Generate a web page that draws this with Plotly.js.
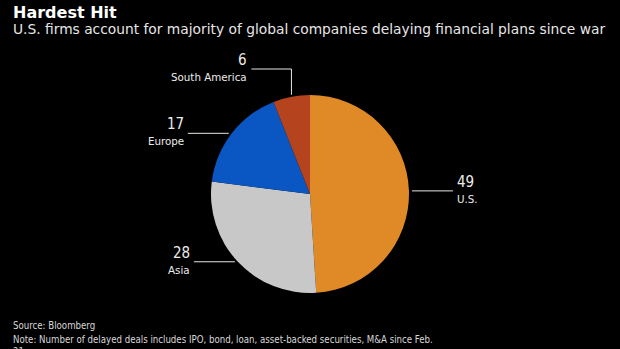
<!DOCTYPE html>
<html><head><meta charset="utf-8">
<script src="https://cdn.plot.ly/plotly-3.0.1.min.js"></script>
<style>html,body{margin:0;padding:0;background:#000;}#chart{width:620px;height:349px;}</style>
</head><body><div id="chart"></div>
<script>
const regions = ["U.S.", "Asia", "Europe", "South America"];
const delayedDeals = [49, 28, 17, 6];
const sliceColors = ["#DF8A26", "#C8C8C8", "#0A56C2", "#B5431E"];

const W = 620, H = 349;
const FONT = "DejaVu Sans Condensed, DejaVu Sans, sans-serif";
const FONTW = "DejaVu Sans, sans-serif";
const cx = 310, cy = 194, R = 99;
const px = x => x / W, py = y => 1 - y / H;

const shapes = [], annotations = [];
const total = delayedDeals.reduce((a, b) => a + b, 0);
let cum = 0;
delayedDeals.forEach((v, i) => {
  const mid = (cum + v / 2) / total * 2 * Math.PI;
  cum += v;
  const ex = cx + R * Math.sin(mid), ey = cy - R * Math.cos(mid);
  let ly, endx, anchor;
  const lineStyle = {color: "#e6e6e6", width: 1};
  if (Math.abs(Math.sin(mid)) < 0.3) {
    ly = cy - R - 26;
    shapes.push({type: "line", xref: "paper", yref: "paper", x0: px(ex), y0: py(ey - 2), x1: px(ex), y1: py(ly), line: lineStyle});
    endx = ex - 40;
    shapes.push({type: "line", xref: "paper", yref: "paper", x0: px(ex), y0: py(ly), x1: px(endx), y1: py(ly), line: lineStyle});
    anchor = "right";
  } else {
    ly = ey;
    const dir = Math.sin(mid) > 0 ? 1 : -1;
    const sx = ex + dir * 3;
    endx = sx + dir * 41;
    shapes.push({type: "line", xref: "paper", yref: "paper", x0: px(sx), y0: py(ly), x1: px(endx), y1: py(ly), line: lineStyle});
    anchor = dir > 0 ? "left" : "right";
  }
  const tx = anchor === "left" ? endx + 2 : endx - 2;
  annotations.push({xref: "paper", yref: "paper", x: px(tx), y: py(ly - 9), xanchor: anchor, yanchor: "middle",
    text: String(v), showarrow: false, font: {family: FONT, size: 15, color: "#ececec"}});
  annotations.push({xref: "paper", yref: "paper", x: px(tx), y: py(ly + 8), xanchor: anchor, yanchor: "middle",
    text: regions[i], showarrow: false, font: {family: FONTW, size: 10.3, color: "#ececec"}});
});

annotations.push(
  {xref: "paper", yref: "paper", x: px(11), y: py(12), xanchor: "left", yanchor: "middle", showarrow: false,
   text: "<b>Hardest Hit</b>", font: {family: FONTW, size: 16, color: "#ffffff"}},
  {xref: "paper", yref: "paper", x: px(11), y: py(29), xanchor: "left", yanchor: "middle", showarrow: false,
   text: "U.S. firms account for majority of global companies delaying financial plans since war", font: {family: FONTW, size: 13.8, color: "#e6e6e6"}},
  {xref: "paper", yref: "paper", x: px(11), y: py(325), xanchor: "left", yanchor: "middle", showarrow: false,
   text: "Source: Bloomberg", font: {family: FONT, size: 9.6, color: "#d8d8d8"}},
  {xref: "paper", yref: "paper", x: px(11), y: py(332), xanchor: "left", yanchor: "top", showarrow: false, align: "left",
   text: "Note: Number of delayed deals includes IPO, bond, loan, asset-backed securities, M&A since Feb.<br>21", font: {family: FONT, size: 9.6, color: "#d8d8d8"}}
);

const data = [{
  type: "pie", labels: regions, values: delayedDeals, sort: false, direction: "clockwise", rotation: 0,
  marker: {colors: sliceColors, line: {width: 0}}, textinfo: "none", hoverinfo: "none",
  domain: {x: [px(cx - R), px(cx + R)], y: [py(cy + R), py(cy - R)]}
}];
const layout = {
  width: W, height: H, margin: {l: 0, r: 0, t: 0, b: 0},
  paper_bgcolor: "#000", plot_bgcolor: "#000", showlegend: false,
  shapes, annotations
};
Plotly.newPlot("chart", data, layout, {staticPlot: true, displayModeBar: false});
</script></body></html>
